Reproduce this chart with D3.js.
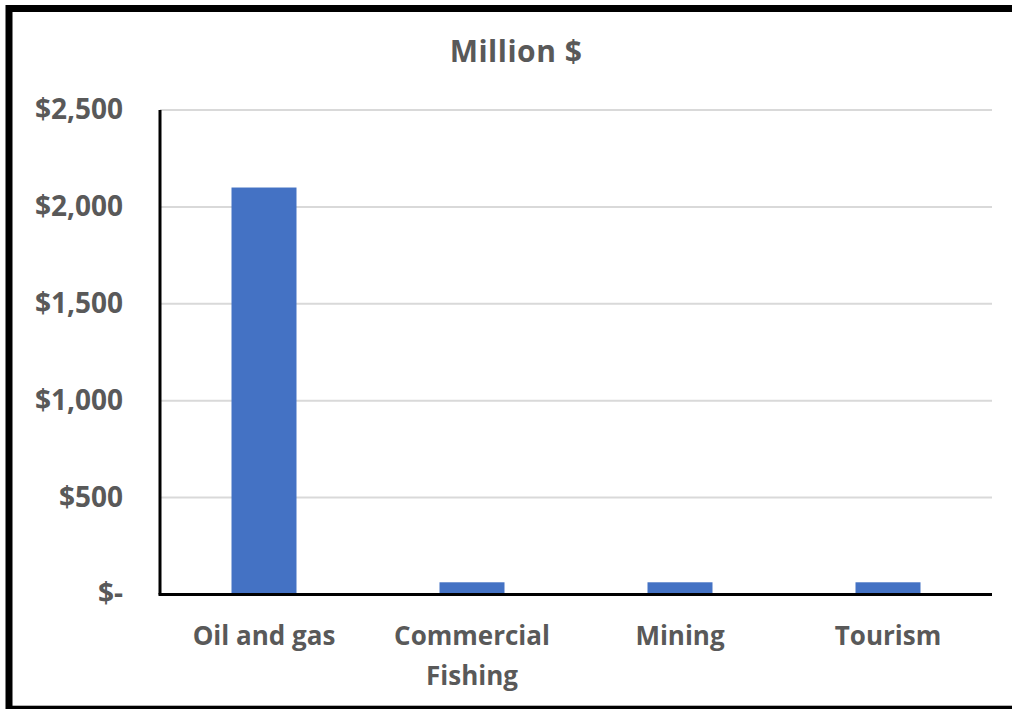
<!DOCTYPE html>
<html>
<head>
<meta charset="utf-8">
<script src="https://cdn.jsdelivr.net/npm/d3@7"></script>
<style>
  body { margin: 0; background: #fff; }
  text { font-family: "Open Sans", Lato, sans-serif; font-weight: bold; fill: #595959; }
</style>
</head>
<body>
<script>
var w = 1012;
var h = 709;

// data
var categories = ["Oil and gas", "Commercial Fishing", "Mining", "Tourism"];
var values = [2100, 63, 63, 63];
var tickValues = [0, 500, 1000, 1500, 2000, 2500];
var title = "Million $";

var plotLeft = 160, plotRight = 992, plotTop = 110, plotBottom = 594.5;

var svg = d3.select("body").append("svg").attr("width", w).attr("height", h);

// outer frame
svg.append("rect")
  .attr("x", 9).attr("y", 8.5)
  .attr("width", 1010).attr("height", 700.7)
  .attr("fill", "none")
  .attr("stroke", "black")
  .attr("stroke-width", 7);

var x = d3.scaleBand()
  .domain(categories)
  .range([plotLeft, plotRight])
  .paddingInner(0.6875)
  .paddingOuter(0.34375);

var y = d3.scaleLinear()
  .domain([0, 2500])
  .range([plotBottom, plotTop]);

// gridlines
svg.append("g")
  .selectAll("line")
  .data(tickValues.filter(function(d) { return d > 0; }))
  .enter().append("line")
  .attr("x1", plotLeft).attr("x2", plotRight)
  .attr("y1", function(d) { return y(d); })
  .attr("y2", function(d) { return y(d); })
  .attr("stroke", "#d9d9d9")
  .attr("stroke-width", 2);

// bars
svg.append("g")
  .selectAll("rect")
  .data(values)
  .enter().append("rect")
  .attr("x", function(d, i) { return x(categories[i]); })
  .attr("width", x.bandwidth())
  .attr("y", function(d) { return y(d); })
  .attr("height", function(d) { return y(0) - y(d); })
  .attr("fill", "#4472c4");

// y axis
var yAxis = svg.append("g")
  .attr("transform", "translate(" + plotLeft + ",0)")
  .call(d3.axisLeft(y)
    .tickValues(tickValues)
    .tickSize(0)
    .tickPadding(37)
    .tickFormat(function(d) { return d == 0 ? "$-" : "$" + d3.format(",")(d); }));
yAxis.select(".domain").remove();
yAxis.attr("font-family", null).attr("font-size", null);
yAxis.selectAll("text")
  .attr("font-size", 28)
  .attr("dy", "0.3em");

svg.append("line")
  .attr("x1", plotLeft).attr("x2", plotLeft)
  .attr("y1", plotTop).attr("y2", plotBottom)
  .attr("stroke", "black").attr("stroke-width", 3);
svg.append("line")
  .attr("x1", plotLeft - 1.5).attr("x2", plotRight)
  .attr("y1", plotBottom).attr("y2", plotBottom)
  .attr("stroke", "black").attr("stroke-width", 3);

// category labels, Excel-style wrap
var xLabels = svg.append("g")
  .selectAll("text")
  .data(categories)
  .enter().append("text")
  .attr("text-anchor", "middle")
  .attr("font-size", 26)
  .attr("x", function(d) { return x(d) + x.bandwidth() / 2; })
  .attr("y", 645);

xLabels.each(function(d) {
  var words = d == "Commercial Fishing" ? ["Commercial", "Fishing"] : [d];
  var t = d3.select(this);
  words.forEach(function(wd, i) {
    t.append("tspan")
      .attr("x", t.attr("x"))
      .attr("dy", i == 0 ? 0 : 40)
      .text(wd);
  });
});

// title
svg.append("text")
  .attr("x", 516).attr("y", 62)
  .attr("text-anchor", "middle")
  .attr("font-size", 30)
  .attr("letter-spacing", 0.5)
  .text(title);
</script>
</body>
</html>
